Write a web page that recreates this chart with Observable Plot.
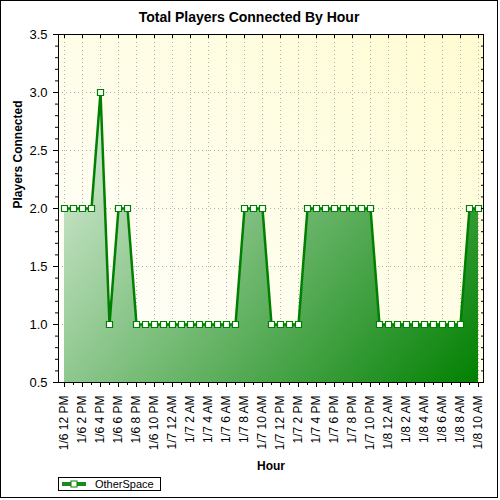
<!DOCTYPE html>
<html><head><meta charset="utf-8">
<script src="https://cdn.jsdelivr.net/npm/d3@7"></script>
<script src="https://cdn.jsdelivr.net/npm/@observablehq/plot@0.6"></script>
<style>
body{margin:0;background:#fff;font-family:"Liberation Sans",Arial,sans-serif;}
#chart{position:relative;width:496px;height:496px;border:1px solid #000;overflow:hidden;background:#fff;}
#title{height:28px;padding-top:2px;line-height:28px;text-align:center;font-weight:bold;font-size:14px;color:#000;}
#plot{height:444px;}
#plot svg{display:block;}
#legend{position:absolute;left:57px;top:476px;height:12px;border:1px solid #000;display:flex;align-items:center;padding:0 6px 0 2px;font-size:11px;background:#fff;}
#legend svg{margin-right:8px;display:block;}
</style>
</head><body>
<div id="chart">
  <div id="title">Total Players Connected By Hour</div>
  <div id="plot"></div>
  <div id="legend"><svg width="26" height="10"><line x1="1" x2="25" y1="5" y2="5" stroke="#1a8a1a" stroke-width="4"/><rect x="10" y="2" width="6" height="6" fill="#fff" stroke="#008000" stroke-width="1"/></svg><span>OtherSpace</span></div>
</div>
<script>
const hours = [
  "1/6 12 PM","1/6 1 PM","1/6 2 PM","1/6 3 PM","1/6 4 PM","1/6 5 PM","1/6 6 PM","1/6 7 PM","1/6 8 PM","1/6 9 PM","1/6 10 PM","1/6 11 PM",
  "1/7 12 AM","1/7 1 AM","1/7 2 AM","1/7 3 AM","1/7 4 AM","1/7 5 AM","1/7 6 AM","1/7 7 AM","1/7 8 AM","1/7 9 AM","1/7 10 AM","1/7 11 AM",
  "1/7 12 PM","1/7 1 PM","1/7 2 PM","1/7 3 PM","1/7 4 PM","1/7 5 PM","1/7 6 PM","1/7 7 PM","1/7 8 PM","1/7 9 PM","1/7 10 PM","1/7 11 PM",
  "1/8 12 AM","1/8 1 AM","1/8 2 AM","1/8 3 AM","1/8 4 AM","1/8 5 AM","1/8 6 AM","1/8 7 AM","1/8 8 AM","1/8 9 AM","1/8 10 AM"
];
const players = [
  2,2,2,2,3,1,2,2,1,1,1,1,
  1,1,1,1,1,1,1,1,2,2,2,1,
  1,1,1,2,2,2,2,2,2,2,2,1,
  1,1,1,1,1,1,1,1,1,2,2
];
const xTickLabels = [
  "1/6 12 PM","1/6 2 PM","1/6 4 PM","1/6 6 PM","1/6 8 PM","1/6 10 PM",
  "1/7 12 AM","1/7 2 AM","1/7 4 AM","1/7 6 AM","1/7 8 AM","1/7 10 AM",
  "1/7 12 PM","1/7 2 PM","1/7 4 PM","1/7 6 PM","1/7 8 PM","1/7 10 PM",
  "1/8 12 AM","1/8 2 AM","1/8 4 AM","1/8 6 AM","1/8 8 AM","1/8 10 AM"
];
const yTicks = [0.5, 1.0, 1.5, 2.0, 2.5, 3.0, 3.5];
const seriesName = "OtherSpace";

const data = hours.map((h, i) => ({hour: h, players: players[i]}));

const W = 496, H = 444;
const mL = 57, mR = 14, mT = 3, mB = 93;
const noText = () => "";

const chart = Plot.plot({
  width: W, height: H,
  marginLeft: mL, marginRight: mR, marginTop: mT, marginBottom: mB,
  style: {fontFamily: '"Liberation Sans", Arial, sans-serif', fontSize: "12px", color: "#000", background: "transparent", overflow: "visible"},
  x: {type: "point", domain: hours, padding: 0.5, label: null},
  y: {domain: [0.5, 3.5], label: null},
  marks: [
    Plot.frame({fill: "url(#bgGrad)", stroke: null}),
    Plot.gridX(xTickLabels, {stroke: "#b0b0b0", strokeOpacity: 1, strokeDasharray: "1,3"}),
    Plot.gridY(yTicks, {stroke: "#b0b0b0", strokeOpacity: 1, strokeDasharray: "1,3"}),
    Plot.areaY(data, {x: "hour", y1: 0.5, y2: "players", fill: "url(#areaGrad)", fillOpacity: 1}),
    Plot.line(data, {x: "hour", y: "players", stroke: "#008000", strokeWidth: 2.5}),
    Plot.dot(data, {x: "hour", y: "players", symbol: "square", r: 3.4, fill: "#fff", stroke: "#008000", strokeWidth: 1.2}),
    Plot.frame({stroke: "#000", strokeWidth: 1}),
    Plot.axisX(xTickLabels, {tickRotate: -90, tickSize: 5, tickPadding: 8, label: null}),
    Plot.axisX(hours, {tickSize: 3, tickFormat: noText, label: null}),
    Plot.axisX(xTickLabels, {anchor: "top", tickSize: -3, tickFormat: noText, label: null}),
    Plot.axisY(yTicks, {tickSize: 5, tickPadding: 6, fontSize: 13, tickFormat: d => d.toFixed(1), label: null}),
    Plot.axisY({ticks: 30, tickSize: 3, tickFormat: noText, label: null}),
    Plot.axisY({anchor: "right", ticks: 30, tickSize: -3, tickFormat: noText, label: null}),
    Plot.text(["Hour"], {text: d => d, frameAnchor: "bottom", dy: 87, fontWeight: "bold", fontSize: 12}),
    Plot.text(["Players Connected"], {text: d => d, frameAnchor: "left", dx: -40, rotate: -90, fontWeight: "bold", fontSize: 12})
  ]
});

const defs = d3.select(chart).insert("defs", ":first-child");
const bg = defs.append("linearGradient").attr("id", "bgGrad")
  .attr("x1", 0).attr("y1", 1).attr("x2", 1).attr("y2", 0);
bg.append("stop").attr("offset", "0").attr("stop-color", "#ffffff");
bg.append("stop").attr("offset", "1").attr("stop-color", "#fffcd2");
const ag = defs.append("linearGradient").attr("id", "areaGrad")
  .attr("gradientUnits", "userSpaceOnUse")
  .attr("x1", mL).attr("y1", mT).attr("x2", W - mR).attr("y2", H - mB);
ag.append("stop").attr("offset", "0").attr("stop-color", "#f2f9f2");
ag.append("stop").attr("offset", "1").attr("stop-color", "#008000");

document.getElementById("plot").appendChild(chart);
document.querySelector("#legend span").textContent = seriesName;
</script>
</body></html>
